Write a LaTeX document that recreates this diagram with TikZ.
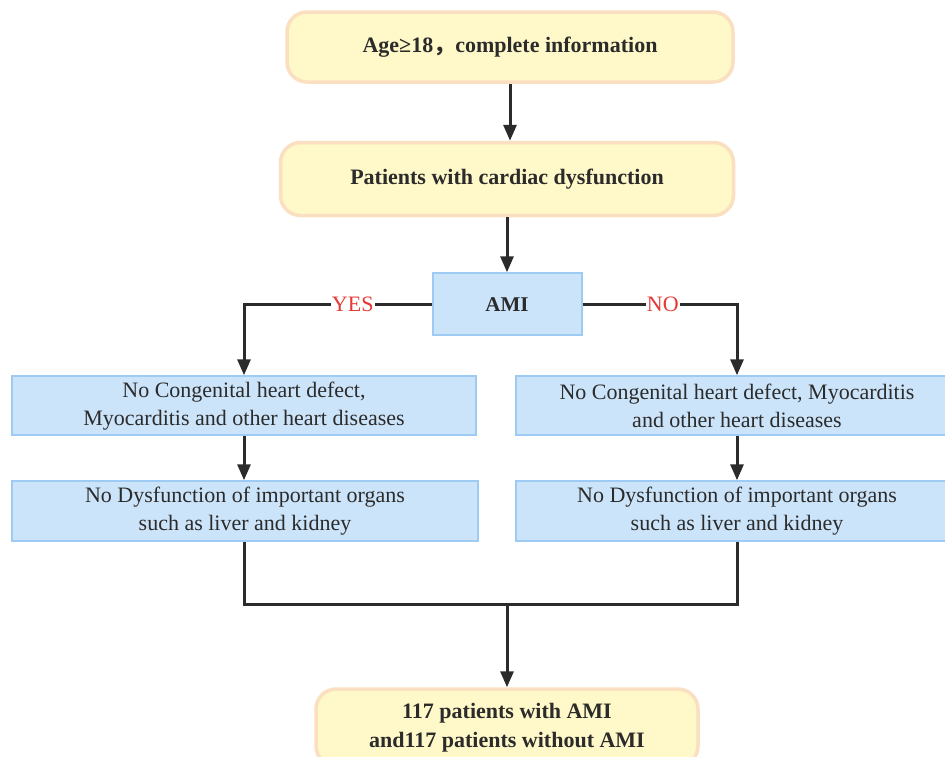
\documentclass[tikz,border=0pt]{standalone}
\usepackage{fontspec}
\setmainfont{Liberation Serif}
\newfontfamily\cjk{Noto Sans CJK SC}
\usetikzlibrary{positioning,arrows.meta,calc}

\definecolor{amarillo}{HTML}{FFF8C8}
\definecolor{naranja}{HTML}{FADFC0}
\definecolor{celeste}{HTML}{CCE4FA}
\definecolor{azulborde}{HTML}{9ECBF3}
\definecolor{tinta}{HTML}{2B2B2B}
\definecolor{rojo}{HTML}{E53935}

\begin{document}
\begin{tikzpicture}[
    inicio/.style={draw=naranja, line width=3.5pt, rounded corners=20pt, fill=amarillo,
                   align=center, font=\fontsize{22}{29}\selectfont\bfseries, text=tinta},
    criterio/.style={draw=azulborde, line width=2pt, fill=celeste, align=center,
                     font=\fontsize{22}{28}\selectfont, text=tinta},
    flecha/.style={-{Triangle[length=16pt, width=13pt]}, line width=3pt, draw=tinta},
    linea/.style={line width=3pt, draw=tinta},
    etiqueta/.style={fill=white, inner sep=1pt, text=rojo, font=\fontsize{22}{24}\selectfont}
]
\useasboundingbox (0pt,0pt) rectangle (945pt,-756pt);
\clip (0pt,0pt) rectangle (945pt,-756pt);

\node[inicio, minimum width=446pt, minimum height=70pt] (edad) at (510pt,-47pt)
    {Age≥18{\cjk ，}complete information};
\node[inicio, minimum width=453pt, minimum height=73pt, below=57pt of edad, xshift=-3pt] (disf)
    {Patients with cardiac dysfunction};
\node[criterio, minimum width=149pt, minimum height=62pt, below=55pt of disf,
      font=\fontsize{21}{24}\selectfont\bfseries] (ami) {AMI};

\node[criterio, minimum width=464pt, minimum height=59pt, below=39pt of ami, xshift=-263pt] (si1)
    {No Congenital heart defect,\\Myocarditis and other heart diseases};
\node[criterio, minimum width=442pt, minimum height=59pt, below=39pt of ami, xshift=230pt] (no1)
    {No Congenital heart defect, Myocarditis\\and other heart diseases};
\node[criterio, minimum width=466pt, minimum height=60pt, below=44pt of si1, xshift=1pt] (si2)
    {No Dysfunction of important organs\\such as liver and kidney};
\node[criterio, minimum width=442pt, minimum height=60pt, below=44pt of no1] (no2)
    {No Dysfunction of important organs\\such as liver and kidney};

% union de las dos ramas
\coordinate (union) at ($(ami.south |- si2.south)+(0,-62pt)$);
\node[inicio, minimum width=382pt, minimum height=77pt, below=83pt of union] (final)
    {117 patients with AMI\\and117 patients without AMI};

\draw[flecha] (edad.south) -- (edad.south |- disf.north);
\draw[flecha] (disf) -- (ami);
\draw[flecha] (ami.west) -| node[etiqueta, pos=0.21] {YES} (si1.north);
\draw[flecha] (ami.east) -| node[etiqueta, pos=0.26] {NO} (no1.north);
\draw[flecha] (si1.south) -- (si1.south |- si2.north);
\draw[flecha] (no1) -- (no2);

\draw[linea] ([xshift=-1pt]si2.south) |- (no2.south |- union) -- (no2.south);
\draw[flecha] (union) -- (final);

\end{tikzpicture}
\end{document}
